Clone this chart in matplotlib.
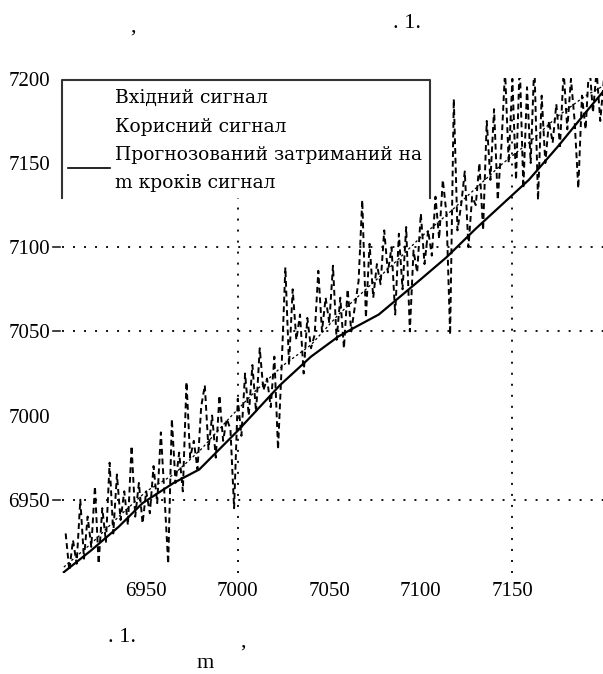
import matplotlib.pyplot as plt
import matplotlib.transforms as mtransforms
from matplotlib.patches import Rectangle

# --- DATA ---
# input signal: noisy samples every 2 steps
input_x = list(range(6906, 7201, 2))
input_y = [
    6930, 6908, 6926, 6912, 6950, 6915, 6940, 6922, 6958, 6912,
    6945, 6925, 6972, 6930, 6965, 6938, 6955, 6935, 6982, 6940,
    6960, 6936, 6955, 6942, 6970, 6948, 6990, 6952, 6912, 6998,
    6960, 6978, 6955, 7020, 6975, 6985, 6968, 7005, 7018, 6980,
    7000, 6975, 7012, 6985, 6998, 6992, 6945, 7010, 6988, 7025,
    7000, 7030, 7002, 7040, 7015, 7022, 7005, 7035, 6980, 7030,
    7088, 7030, 7075, 7045, 7060, 7025, 7058, 7040, 7048, 7086,
    7050, 7070, 7055, 7089, 7045, 7070, 7040, 7075, 7050, 7065,
    7080, 7128, 7058, 7102, 7070, 7090, 7078, 7110, 7085, 7100,
    7060, 7108, 7075, 7112, 7050, 7098, 7085, 7120, 7090, 7110,
    7095, 7130, 7105, 7140, 7120, 7048, 7188, 7110, 7125, 7145,
    7100, 7130, 7125, 7150, 7110, 7175, 7140, 7182, 7128, 7160,
    7205, 7150, 7200, 7140, 7210, 7135, 7195, 7150, 7210, 7128,
    7190, 7150, 7175, 7162, 7185, 7160, 7205, 7170, 7200, 7175,
    7135, 7190, 7170, 7210, 7180, 7205, 7175, 7200,
]

# useful (clean) signal
useful_x = [6905, 6920, 6935, 6950, 6965, 6980, 6995, 7010, 7025, 7040, 7055,
            7070, 7085, 7100, 7115, 7130, 7145, 7160, 7175, 7190, 7200]
useful_y = [6910, 6924, 6940, 6955, 6965, 6980, 6998, 7015, 7030, 7042, 7060,
            7075, 7090, 7106, 7120, 7135, 7150, 7163, 7178, 7190, 7196]

# predicted signal, delayed by m steps
pred_x = [6905, 6920, 6935, 6948, 6965, 6979, 7000, 7023, 7040, 7055, 7065,
          7077, 7088, 7100, 7114, 7130, 7145, 7159, 7175, 7190, 7200]
pred_y = [6907, 6920, 6934, 6948, 6960, 6968, 6991, 7018, 7035, 7047, 7053,
          7060, 7070, 7081, 7094, 7111, 7126, 7140, 7160, 7180, 7193]

X_TICKS = [6950, 7000, 7050, 7100, 7150]
Y_TICKS = [6950, 7000, 7050, 7100, 7150, 7200]
GRID_X = [7000, 7150]
GRID_Y = [6950, 7050, 7100]

LEGEND = ["Вхідний сигнал", "Корисний сигнал",
          "Прогнозований затриманий на", "m кроків сигнал"]

SERIF = "Liberation Serif"
LEG_FONT = "DejaVu Serif"

fig = plt.figure(figsize=(6.03, 6.74), dpi=100)
ax = fig.add_axes([62 / 603, 101 / 674, 541 / 603, 495 / 674])

ax.set_xlim(6904, 7199.5)
ax.set_ylim(6906.5, 7200.5)
for s in ax.spines.values():
    s.set_visible(False)

ax.set_xticks(X_TICKS)
ax.set_yticks(Y_TICKS)
ax.tick_params(length=0, labelsize=15)
ax.tick_params(axis="x", pad=6.5)
ax.tick_params(axis="y", pad=8.5)
for lab in ax.get_xticklabels() + ax.get_yticklabels():
    lab.set_fontfamily(SERIF)

# dotted grid only at a few values, with a short dash next to the y labels
dots = (0, (1.1, 5))
for gx in GRID_X:
    ax.axvline(gx, color="black", linestyle=dots, linewidth=1.3, zorder=1)
yaxis_tr = mtransforms.blended_transform_factory(ax.transAxes, ax.transData)
for gy in GRID_Y:
    ax.axhline(gy, color="black", linestyle=dots, linewidth=1.3, zorder=1)
    ax.plot([-0.016, -0.003], [gy, gy], transform=yaxis_tr, color="#222222",
            linewidth=1.2, clip_on=False)

# the three signals
ax.plot(input_x, input_y, color="black", linewidth=1.4, linestyle=(0, (3, 2)), zorder=2)
ax.plot(useful_x, useful_y, color="black", linewidth=0.9, linestyle=(0, (2, 2)), zorder=3)
ax.plot(pred_x, pred_y, color="black", linewidth=1.6, zorder=3)

# legend box (open at the bottom, as in the scan)
ax.add_patch(Rectangle((0, 0.758), 0.680, 0.242, transform=ax.transAxes,
                       facecolor="white", edgecolor="none", zorder=5, clip_on=False))
ax.plot([0, 0, 0.680, 0.680], [0.758, 0.996, 0.996, 0.758], transform=ax.transAxes,
        color="#333333", linewidth=1.5, zorder=6, clip_on=False)
for txt, yy in zip(LEGEND, [0.960, 0.901, 0.844, 0.788]):
    ax.text(0.098, yy, txt, transform=ax.transAxes, fontsize=13.5, family=LEG_FONT,
            va="center", ha="left", zorder=7)
ax.plot([0.011, 0.089], [0.818, 0.818], transform=ax.transAxes, color="black",
        linewidth=1.2, zorder=7, clip_on=False)

# leftover caption fragments of the scanned page
fig.text(133 / 603, 1 - 27 / 674, ",", fontsize=16, family=SERIF, ha="center", va="center")
fig.text(407 / 603, 1 - 23 / 674, ". 1.", fontsize=16, family=SERIF, ha="center", va="center")
fig.text(122 / 603, 1 - 638 / 674, ". 1.", fontsize=16, family=SERIF, ha="center", va="center")
fig.text(243 / 603, 1 - 642 / 674, ",", fontsize=16, family=SERIF, ha="center", va="center")
fig.text(205 / 603, 1 - 664 / 674, "m", fontsize=16, family=SERIF, ha="center", va="center")

fig.savefig("out.png", dpi=100)
